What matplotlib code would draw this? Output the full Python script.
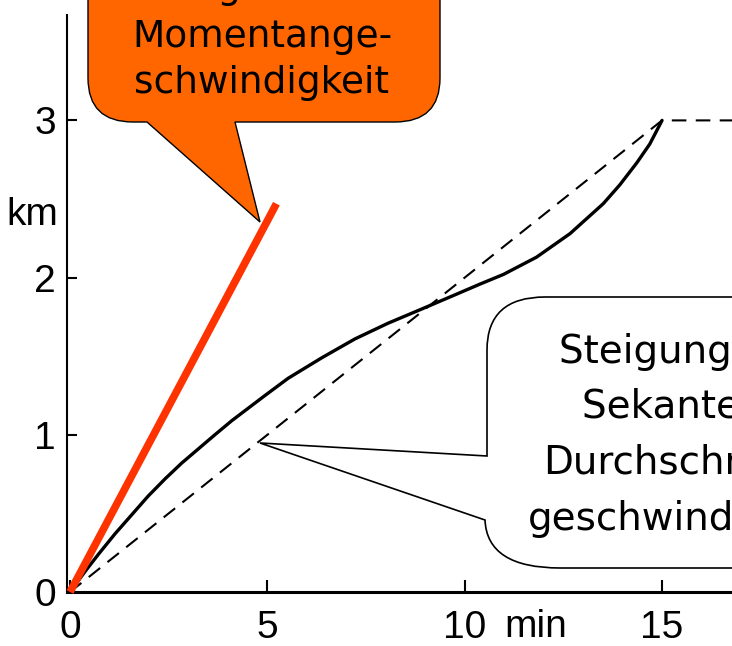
import matplotlib
matplotlib.use("Agg")
import matplotlib.pyplot as plt
from matplotlib.path import Path
from matplotlib.patches import PathPatch

# ---- data ----
time_min = [0.0, 0.38, 0.72, 1.14, 1.56, 1.98, 2.41, 2.83, 3.25, 3.67, 4.10, 4.52,
            4.94, 5.53, 6.38, 7.22, 8.06, 8.91, 9.75, 10.40, 10.98, 11.82, 12.67,
            13.51, 13.93, 14.36, 14.69, 15.0]
dist_km = [0.0, 0.13, 0.24, 0.37, 0.49, 0.61, 0.72, 0.82, 0.91, 1.00, 1.09, 1.17,
           1.25, 1.36, 1.49, 1.61, 1.71, 1.80, 1.89, 1.96, 2.02, 2.13, 2.28,
           2.47, 2.59, 2.73, 2.85, 3.0]
secant_x = [0, 15, 17.5]
secant_y = [0, 3, 3]
tangent_x = [0, 5.23]
tangent_y = [0, 2.47]
xticks = [0, 5, 10, 15]
xticklabels = ["0", "5", "10", "15"]
yticks = [0, 1, 2, 3]
yticklabels = ["0", "1", "2", "3"]
orange_lines = ["Steigung der", "Tangente =", "Momentange-", "schwindigkeit"]
white_lines = ["Steigung der", "Sekante =", "Durchschnitts-", "geschwindigkeit"]

narrow = "Liberation Sans"
comic = "DejaVu Sans"

W, H = 732, 646
fig = plt.figure(figsize=(W / 100, H / 100), dpi=100)
ax = fig.add_axes([67 / W, (H - 592) / H, (W - 67) / W, 592 / H])
ppm = 39.47
ppk = 157.2
ax.set_xlim(-3 / ppm, (W - 70) / ppm)
ax.set_ylim(0, 592 / ppk)

for s in ["top", "right"]:
    ax.spines[s].set_visible(False)
ax.spines["left"].set_linewidth(1.5)
ax.spines["left"].set_bounds(0, (592 - 15) / ppk)
ax.spines["bottom"].set_linewidth(2.2)

ax.set_xticks(xticks)
ax.set_xticklabels(xticklabels, fontfamily=narrow, fontsize=28)
ax.set_yticks(yticks)
ax.set_yticklabels(yticklabels, fontfamily=narrow, fontsize=28)
ax.tick_params(axis="x", direction="in", length=9, width=1.5, pad=13)
ax.tick_params(axis="y", direction="in", length=7, width=1.5, pad=8)

ax.plot(secant_x, secant_y, color="black", lw=1.5, dashes=(7, 4.5), clip_on=True)
ax.plot(time_min, dist_km, color="black", lw=2.4, solid_joinstyle="round", solid_capstyle="round")
ax.plot(tangent_x, tangent_y, color="#FF3300", lw=5.5, solid_capstyle="butt", clip_on=False, zorder=5)

# ---- overlay in pixel coordinates ----
ov = fig.add_axes([0, 0, 1, 1], zorder=10)
ov.set_xlim(0, W)
ov.set_ylim(H, 0)
ov.axis("off")
ov.patch.set_alpha(0)

# orange callout
verts = [(88, -20), (88, 78), (88, 122), (133, 122), (147, 122), (260, 222), (235, 122),
         (395, 122), (440, 122), (440, 78), (440, -20), (88, -20)]
codes = [Path.MOVETO, Path.LINETO, Path.CURVE3, Path.CURVE3, Path.LINETO, Path.LINETO,
         Path.LINETO, Path.LINETO, Path.CURVE3, Path.CURVE3, Path.LINETO, Path.CLOSEPOLY]
ov.add_patch(PathPatch(Path(verts, codes), facecolor="#FF6600", edgecolor="black", lw=1.0))

# white callout
verts = [(760, 297), (545, 297), (487, 297), (487, 350), (487, 456), (260, 443), (485, 520),
         (487, 568), (560, 568), (760, 568), (760, 297)]
codes = [Path.MOVETO, Path.LINETO, Path.CURVE3, Path.CURVE3, Path.LINETO, Path.LINETO,
         Path.LINETO, Path.CURVE3, Path.CURVE3, Path.LINETO, Path.CLOSEPOLY]
ov.add_patch(PathPatch(Path(verts, codes), facecolor="white", edgecolor="black", lw=1.2))

for txt, yb in zip(orange_lines, [-48, -2, 47, 93]):
    ov.text(262, yb, txt, ha="center", va="baseline", fontsize=27, fontfamily=comic, color="black")
for txt, yb in zip(white_lines, [363, 418, 474, 530]):
    ov.text(684, yb, txt, ha="center", va="baseline", fontsize=28, fontfamily=comic, color="black")

ov.text(58, 225, "km", ha="right", va="baseline", fontsize=28, fontfamily=narrow)
ov.text(536, 637, "min", ha="center", va="baseline", fontsize=28, fontfamily=narrow)

fig.savefig("out.png", dpi=100)
